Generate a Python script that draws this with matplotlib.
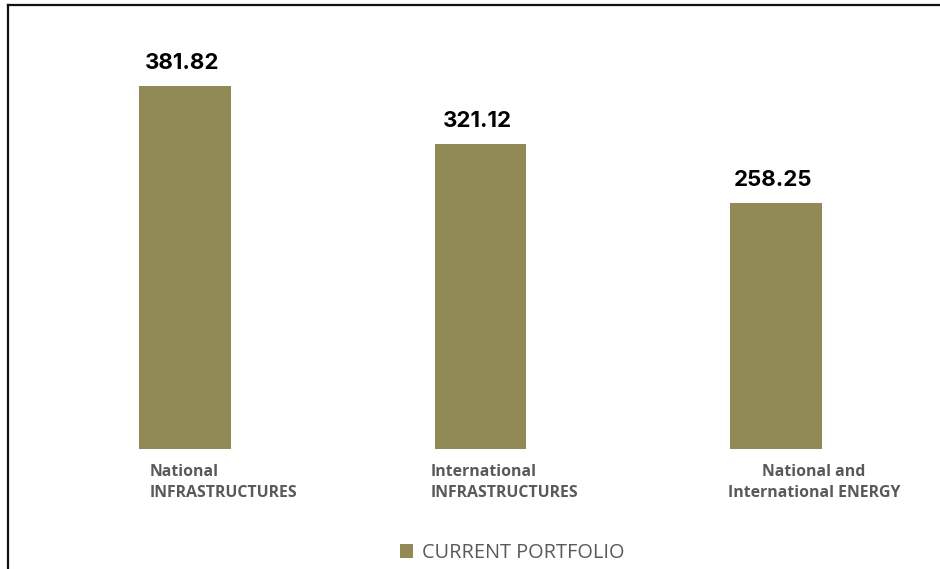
import matplotlib
matplotlib.use("Agg")
import matplotlib.pyplot as plt
from matplotlib.lines import Line2D
from matplotlib.patches import Patch
import matplotlib.transforms as mtransforms

categories = ["National\nINFRASTRUCTURES", "International\nINFRASTRUCTURES", "National and\nInternational ENERGY"]
values = [381.82, 321.12, 258.25]
value_labels = ["381.82", "321.12", "258.25"]
series_name = "CURRENT PORTFOLIO"
label_align = ["left", "left", "center"]

bar_color = "#928A56"
text_grey = "#595959"

fig = plt.figure(figsize=(9.4, 5.69), dpi=100)
ax = fig.add_axes([37/940, 1-449/569, (924-37)/940, (449-20)/569])

x = list(range(len(categories)))
bars = ax.bar(x, values, width=0.311, color=bar_color, label=series_name)
ax.set_xlim(-0.5, len(categories) - 0.5)
ax.set_ylim(0, 451.2)
for s in ax.spines.values():
    s.set_visible(False)
ax.set_xticks([])
ax.set_yticks([])

# value labels
for xi, v, lab in zip(x, values, value_labels):
    trans = ax.transData + mtransforms.ScaledTranslation(-3/100, 17/100, fig.dpi_scale_trans)
    ax.text(xi, v, lab, ha="center", va="baseline", fontsize=16, fontweight="bold",
            family="Inter", color="black", transform=trans)

# category labels (block centred slightly right of bar)
offsets_px = [39, 24, 38]
for xi, cat, al, off in zip(x, categories, label_align, offsets_px):
    trans = mtransforms.blended_transform_factory(ax.transData, fig.transFigure) + \
        mtransforms.ScaledTranslation(off/100, 0, fig.dpi_scale_trans)
    ax.text(xi, 1-464/569, cat, ha="center", va="top", multialignment=al,
            fontsize=11.4, fontweight="bold", family="Open Sans", color=text_grey,
            linespacing=1.42, transform=trans)

# legend
handles = [Patch(facecolor=bar_color, edgecolor="none", label=series_name)]
leg = fig.legend(handles=handles, loc="center", bbox_to_anchor=(512/940, 1-553/569),
                 frameon=False, handlelength=0.65, handleheight=0.65, handletextpad=0.45,
                 prop={"family": "Open Sans", "size": 14.3})
for t in leg.get_texts():
    t.set_color(text_grey)

# frame: top and left lines
fig.add_artist(Line2D([8/940, 1], [1-5/569, 1-5/569], color="#111111", lw=1.6, transform=fig.transFigure))
fig.add_artist(Line2D([8/940, 8/940], [0, 1-5/569], color="#111111", lw=1.6, transform=fig.transFigure))

fig.savefig("out.png", dpi=100)
